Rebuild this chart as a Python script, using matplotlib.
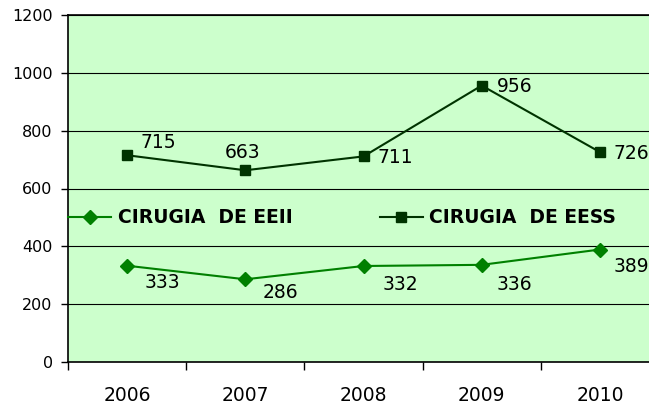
# line chart: cirugia EEII vs EESS by year

import numpy as np
import matplotlib
matplotlib.use("Agg")
import matplotlib.pyplot as plt

years = ["2006", "2007", "2008", "2009", "2010"]
eeii = [333, 286, 332, 336, 389]
eess = [715, 663, 711, 956, 726]

# label offsets in pixels (dx, dy), dy positive = up
eeii_off = [(35, -17), (35, -13), (37, -19), (33, -20), (31, -17)]
eess_off = [(31, 13), (-3, 18), (32, -1), (33, -1), (31, -1)]

plt.rcParams['font.family'] = ['DejaVu Sans']

fig = plt.figure(figsize=(6.49, 4.08), dpi=100)
ax = fig.add_axes([68/649, 46/408, 591/649, 347/408])
ax.set_facecolor('#CCFFCC')

x = np.arange(len(years))
ax.plot(x, eeii, color='#008000', lw=1.5, marker='D', ms=7, label='CIRUGIA  DE EEII', zorder=3)
ax.plot(x, eess, color='#003300', lw=1.5, marker='s', ms=7, label='CIRUGIA  DE EESS', zorder=3)

for i in range(len(years)):
    ax.annotate(str(eeii[i]), (x[i], eeii[i]), xytext=eeii_off[i], textcoords='offset pixels',
                ha='center', va='center', fontsize=13.5, annotation_clip=False)
    ax.annotate(str(eess[i]), (x[i], eess[i]), xytext=eess_off[i], textcoords='offset pixels',
                ha='center', va='center', fontsize=13.5, annotation_clip=False)

ax.set_ylim(0, 1200)
ax.set_yticks(range(0, 1201, 200))
ax.yaxis.grid(True, color='black', lw=0.8)
ax.set_axisbelow(True)
ax.tick_params(axis='y', length=5, width=1, labelsize=11.5, pad=6)

ax.set_xlim(-0.5, 4.5)
ax.set_xticks(np.arange(-0.5, 5, 1))
ax.set_xticklabels([])
ax.set_xticks(x, minor=True)
ax.set_xticklabels(years, minor=True)
ax.tick_params(axis='x', which='major', length=6, width=1)
ax.tick_params(axis='x', which='minor', length=0, labelsize=13.5, pad=17)

for s in ['left', 'bottom', 'top']:
    ax.spines[s].set_color('black')
    ax.spines[s].set_linewidth(1.2)
ax.spines['right'].set_visible(False)

leg = ax.legend(loc='center left', bbox_to_anchor=(0, 0.415), ncol=2, frameon=False,
                borderpad=0, borderaxespad=0, handlelength=2.3, handletextpad=0.35,
                columnspacing=4.65, prop={'weight': 'bold', 'size': 13.5})

fig.savefig('out.png', dpi=100)
